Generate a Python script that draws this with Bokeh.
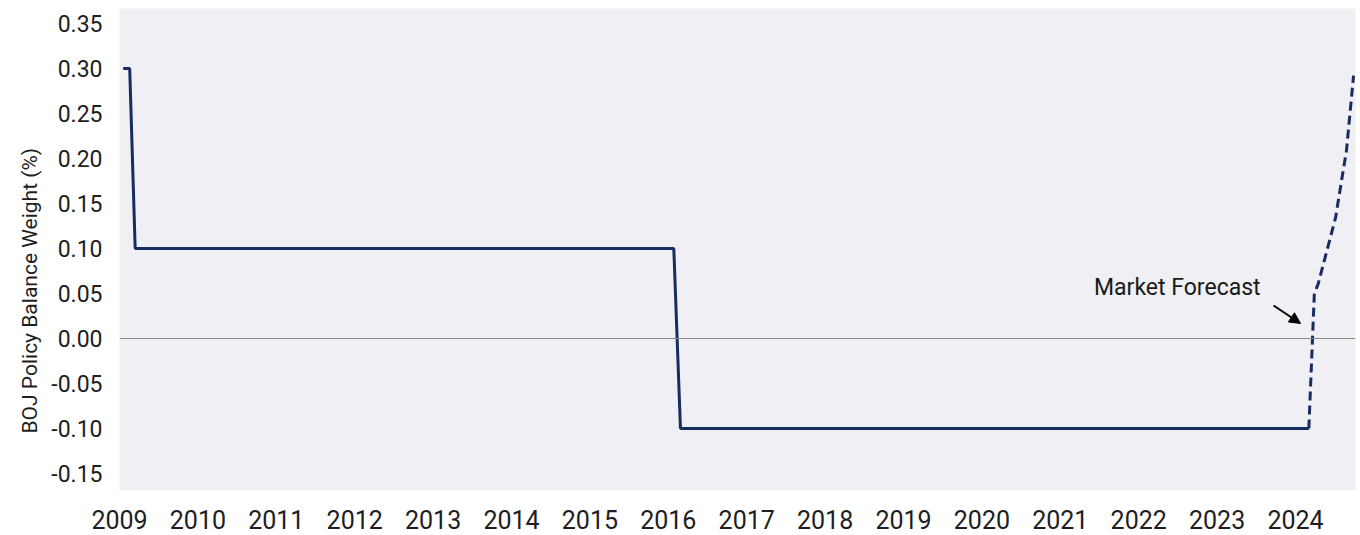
from bokeh.plotting import figure
from bokeh.models import FixedTicker, PrintfTickFormatter, Span, Arrow, NormalHead, Label, Range1d, Title
from bokeh.embed import file_html
from bokeh.resources import INLINE

# ---- data ----
dates_actual = [2009.047, 2009.13, 2009.20, 2016.07, 2016.155, 2024.17]
values_actual = [0.30, 0.30, 0.10, 0.10, -0.10, -0.10]

dates_forecast = [2024.17, 2024.24, 2024.29, 2024.51, 2024.65, 2024.74]
values_forecast = [-0.10, 0.05, 0.061, 0.134, 0.209, 0.292]

year_ticks = list(range(2009, 2025))
y_ticks = [-0.15, -0.10, -0.05, 0.0, 0.05, 0.10, 0.15, 0.20, 0.25, 0.30, 0.35]

y_title = "BOJ Policy Balance Weight (%)"
note_text = "Market Forecast"

FONT = "Roboto"
NAVY = "#172c5f"

p = figure(width=1360, height=535, output_backend="svg", toolbar_location=None,
           x_range=Range1d(2009.0, 2024.765), y_range=Range1d(-0.1689, 0.3667),
           min_border_left=119, min_border_right=5, min_border_top=8, min_border_bottom=45)

p.background_fill_color = "#efeff4"
p.border_fill_color = "white"
p.outline_line_color = None
p.xgrid.grid_line_color = None
p.ygrid.grid_line_color = None

for ax in (p.xaxis[0], p.yaxis[0]):
    ax.axis_line_color = None
    ax.major_tick_line_color = None
    ax.minor_tick_line_color = None
    ax.major_tick_in = 0
    ax.major_tick_out = 0
    ax.minor_tick_in = 0
    ax.minor_tick_out = 0
    ax.major_label_text_font = FONT
    ax.major_label_text_color = "#1e1e1e"

p.xaxis.ticker = FixedTicker(ticks=year_ticks)
p.xaxis.formatter = PrintfTickFormatter(format="%d")
p.xaxis.major_label_text_font_size = "25px"
p.xaxis.major_label_standoff = 19

p.yaxis.ticker = FixedTicker(ticks=y_ticks)
p.yaxis.formatter = PrintfTickFormatter(format="%.2f")
p.yaxis.major_label_text_font_size = "23px"
p.yaxis.major_label_standoff = 17

# y-axis title as a left-side title, placed lower than centre as in the reference
p.add_layout(Title(text=y_title, align="left", offset=57, text_font=FONT,
                   text_font_size="21px", text_font_style="normal",
                   text_color="#1e1e1e", standoff=14), "left")

# zero line
p.add_layout(Span(location=0, dimension="width", line_color="#8a8a8a", line_width=1))

# series
p.line(dates_actual, values_actual, line_color=NAVY, line_width=3)
p.line(dates_forecast, values_forecast, line_color=NAVY, line_width=3, line_dash="9 5")

# annotation
p.add_layout(Label(x=2021.43, y=0.057, text=note_text, text_font=FONT, text_font_size="23px",
                   text_color="#1a1a1a", text_baseline="middle", text_align="left"))
p.add_layout(Arrow(x_start=2023.72, y_start=0.0367, x_end=2024.064, y_end=0.0167,
                   line_color="black", line_width=2,
                   end=NormalHead(size=11, fill_color="black", line_color="black")))

open("out.html", "w").write(file_html(p, INLINE))
